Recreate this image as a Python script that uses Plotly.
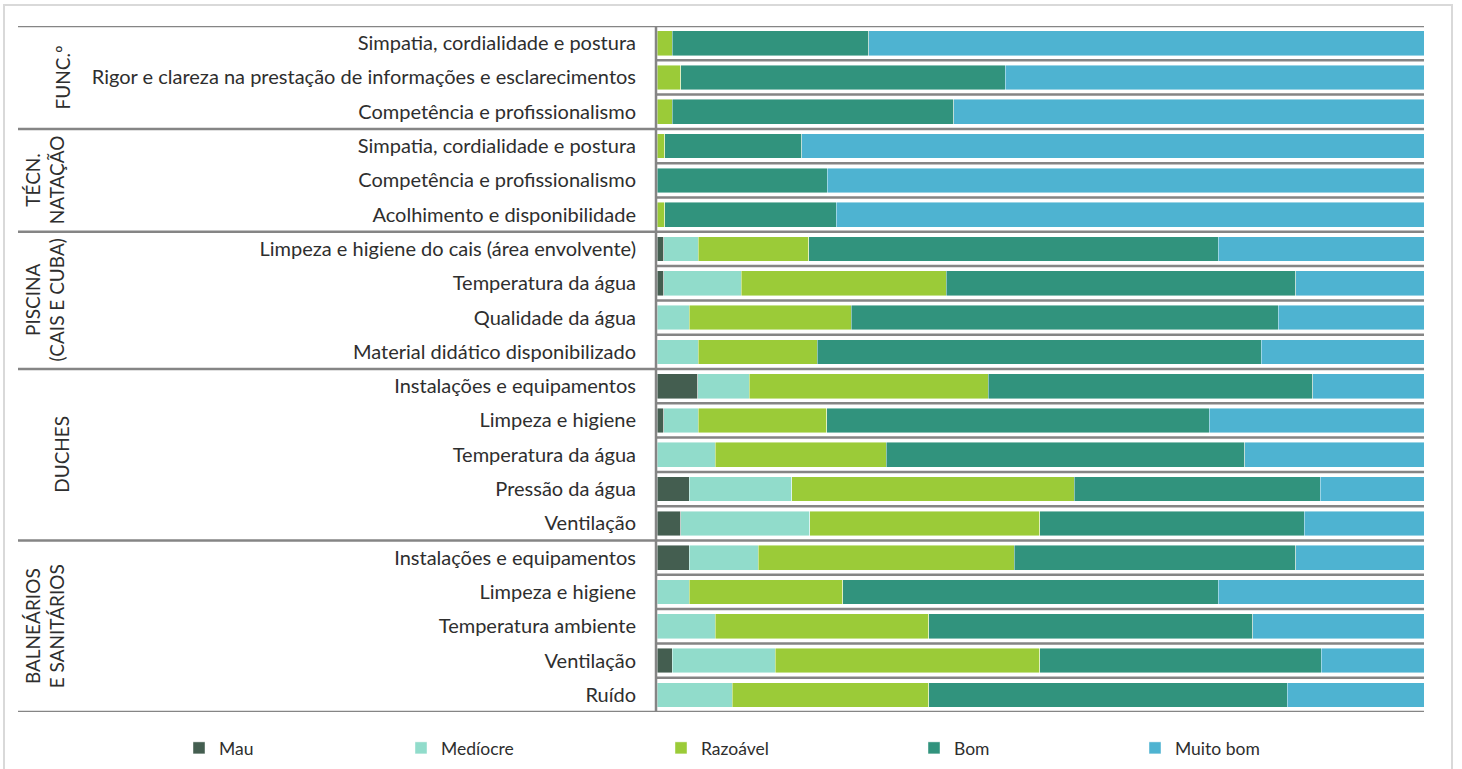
import plotly.graph_objects as go

# ---------------- data ----------------
labels = [
    "Simpatia, cordialidade e postura",
    "Rigor e clareza na prestação de informações e esclarecimentos",
    "Competência e profissionalismo",
    "Simpatia, cordialidade e postura",
    "Competência e profissionalismo",
    "Acolhimento e disponibilidade",
    "Limpeza e higiene do cais (área envolvente)",
    "Temperatura da água",
    "Qualidade da água",
    "Material didático disponibilizado",
    "Instalações e equipamentos",
    "Limpeza e higiene",
    "Temperatura da água",
    "Pressão da água",
    "Ventilação",
    "Instalações e equipamentos",
    "Limpeza e higiene",
    "Temperatura ambiente",
    "Ventilação",
    "Ruído",
]

groups = ["FUNC.º", "TÉCN.<br>NATAÇÃO", "PISCINA<br>(CAIS E CUBA)", "DUCHES", "BALNEÁRIOS<br>E SANITÁRIOS"]
group_sizes = [3, 3, 4, 5, 5]

series_names = ["Mau", "Medíocre", "Razoável", "Bom", "Muito bom"]

mau = [0, 0, 0, 0, 0, 0, 0.9, 0.9, 0, 0, 5.3, 0.9, 0, 4.2, 3.1, 4.2, 0, 0, 2.0, 0]
mediocre = [0, 0, 0, 0, 0, 0, 4.5, 10.1, 4.2, 5.4, 6.7, 4.5, 7.6, 13.4, 16.8, 9.0, 4.2, 7.6, 13.4, 9.8]
razoavel = [2.0, 3.1, 2.0, 1.0, 0, 1.0, 14.4, 26.7, 21.1, 15.5, 31.2, 16.7, 22.3, 36.8, 30.0, 33.4, 20.0, 27.8, 34.5, 25.6]
bom = [25.6, 42.3, 36.7, 17.9, 22.2, 22.4, 53.4, 45.6, 55.7, 57.9, 42.3, 49.9, 46.7, 32.1, 34.5, 36.7, 49.0, 42.3, 36.7, 46.8]
muito_bom = [72.4, 54.6, 61.3, 81.1, 77.8, 76.6, 26.8, 16.7, 19.0, 21.2, 14.5, 28.0, 23.4, 13.5, 15.6, 16.7, 26.8, 22.3, 13.4, 17.8]

colors = ["#445E50", "#91DCCB", "#9BCB38", "#31937D", "#4EB3D1"]

# ---------------- figure ----------------
W, H = 1462, 769
L, R, T, B = 657, 38, 26, 57
pw, ph = W - L - R, H - T - B

def px_x(px):
    return (px - L) / pw

def px_y(py):
    return 1 - (py - T) / ph

FONT = "Lato"
TXT = "#2E2E2E"

ypos = list(range(len(labels)))
fig = go.Figure()
values = [mau, mediocre, razoavel, bom, muito_bom]
legend_px = [179, 401, 661, 914, 1135]
for i, (name, vals, col) in enumerate(zip(series_names, values, colors)):
    lg = "legend" if i == 0 else f"legend{i+1}"
    fig.add_trace(go.Bar(
        y=ypos, x=vals, name=name, orientation="h",
        marker=dict(color=col, line=dict(color="rgba(255,255,255,0.55)", width=0.8)),
        legend=lg, hoverinfo="x+name",
    ))

layout_legends = {}
for i, lp in enumerate(legend_px):
    key = "legend" if i == 0 else f"legend{i+1}"
    layout_legends[key] = dict(
        x=px_x(lp), y=px_y(748), xanchor="left", yanchor="middle",
        orientation="h", font=dict(family=FONT, size=17.5, color=TXT),
        bgcolor="rgba(0,0,0,0)", itemwidth=30, tracegroupgap=0,
    )

shapes = []
# card border
shapes.append(dict(type="rect", xref="paper", yref="paper",
                   x0=px_x(4), x1=px_x(1452), y0=px_y(775), y1=px_y(5),
                   line=dict(color="#D9D9D9", width=2), fillcolor="rgba(0,0,0,0)", layer="below"))
# row separators
bounds = set()
acc = 0
for s in group_sizes:
    bounds.add(acc)
    acc += s
bounds.add(acc)
for k in range(len(labels) + 1):
    x0 = px_x(18) if k in bounds else 0
    shapes.append(dict(type="line", xref="paper", yref="y",
                       x0=x0, x1=1, y0=k - 0.5, y1=k - 0.5,
                       line=dict(color="#858585", width=2.5), layer="above"))
# vertical axis line
shapes.append(dict(type="line", xref="paper", yref="paper", x0=px_x(656), x1=px_x(656),
                   y0=0, y1=1, line=dict(color="#858585", width=2.5), layer="above"))

annotations = []
acc = 0
group_x = [62, 45, 45, 62, 45]
for g, s, gx in zip(groups, group_sizes, group_x):
    center = acc + (s - 1) / 2
    annotations.append(dict(
        text=g, x=px_x(gx), y=center, xref="paper", yref="y",
        textangle=-90, showarrow=False, xanchor="center", yanchor="middle",
        font=dict(family=FONT, size=19, color=TXT), align="center",
    ))
    acc += s

fig.update_layout(
    width=W, height=H,
    margin=dict(l=L, r=R, t=T, b=B, autoexpand=False),
    barmode="stack", bargap=0.28,
    paper_bgcolor="white", plot_bgcolor="white",
    showlegend=True,
    shapes=shapes, annotations=annotations,
    xaxis=dict(range=[0, 100], showticklabels=False, showgrid=False, zeroline=False,
               showline=False, fixedrange=True),
    yaxis=dict(tickmode="array", tickvals=ypos, ticktext=labels,
               range=[len(labels) - 0.5, -0.5], showgrid=False, zeroline=False,
               showline=False, ticks="", ticklabelstandoff=20,
               tickfont=dict(family=FONT, size=20, color=TXT)),
    font=dict(family=FONT, color=TXT),
    **layout_legends,
)

fig.write_html("out.html", config={"displayModeBar": False},
               post_script="document.body.style.margin='0';document.body.style.overflow='hidden';")
